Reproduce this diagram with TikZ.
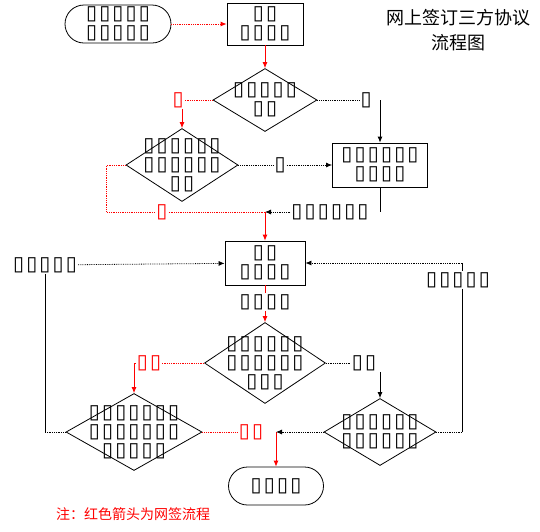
\documentclass[tikz,border=0pt]{standalone}
\usepackage{fontspec}
\newfontfamily\boxfont[LetterSpace=11]{DejaVu Sans}
\newfontfamily\cjkfont{Noto Sans CJK SC}
\usetikzlibrary{shapes.geometric,arrows.meta}

\begin{document}
\begin{tikzpicture}[
  x=1pt, y=-1pt,
  font={\boxfont\fontsize{20pt}{19pt}\selectfont},
  term/.style={draw, line width=0.8pt, rounded corners=19pt, minimum height=38pt, align=center, inner sep=0pt},
  proc/.style={draw, line width=0.8pt, rectangle, align=center, inner sep=0pt},
  ask/.style={draw, line width=0.8pt, diamond, inner sep=0pt},
  tag/.style={inner sep=1pt},
  link/.style={line width=0.8pt},
  hop/.style={line width=0.8pt, densely dotted},
  arr/.style={-{Latex[length=6pt,width=5pt]}},
  net/.style={red}
]
\useasboundingbox (0,0) rectangle (540,531);

% boxes
\node[term, minimum width=106pt] (start) at (118,24) {▯▯▯▯▯\\▯▯▯▯▯};
\node[proc, minimum width=76pt, minimum height=42pt] (boxa) at (265,24) {▯▯\\▯▯▯▯};
\node[ask, minimum width=104pt, minimum height=63pt,
  label={[align=center]center:{▯▯▯▯▯\\▯▯}}] (ask1) at (265,100) {};
\node[ask, minimum width=112pt, minimum height=73pt,
  label={[align=center]center:{▯▯▯▯▯▯\\▯▯▯▯▯▯\\▯▯}}] (ask2) at (182,165) {};
\node[proc, minimum width=95pt, minimum height=44pt] (boxb) at (380,165) {▯▯▯▯▯▯\\▯▯▯▯};
\node[proc, minimum width=80pt, minimum height=44pt] (boxc) at (265,263) {▯▯\\▯▯▯▯};
\node[ask, minimum width=121pt, minimum height=81pt,
  label={[align=center]center:{▯▯▯▯▯▯\\▯▯▯▯▯▯\\▯▯▯}}] (ask3) at (265,363) {};
\node[ask, minimum width=136pt, minimum height=77pt,
  label={[align=center]center:{▯▯▯▯▯▯▯\\▯▯▯▯▯▯▯\\▯▯▯▯▯}}] (ask4) at (134,432) {};
\node[ask, minimum width=112pt, minimum height=67pt,
  label={[align=center]center:{▯▯▯▯▯▯\\▯▯▯▯▯▯}}] (ask5) at (380,432) {};
\node[term, minimum width=95pt] (finish) at (276,486) {▯▯▯▯};

% tags on the lines
\node[tag, net] (ta) at (178,100) {▯};
\node[tag] (tb) at (366,100) {▯};
\node[tag] (tc) at (280,165) {▯};
\node[tag, net] (td) at (162,212) {▯};
\node[tag] (te) at (330,212) {▯▯▯▯▯▯};
\node[tag] (tf) at (265,302) {▯▯▯▯};
\node[tag] (tg) at (45,265) {▯▯▯▯▯};
\node[tag] (th) at (458,280) {▯▯▯▯▯};
\node[tag, net] (ti) at (149,363) {▯▯};
\node[tag] (tj) at (364,363) {▯▯};
\node[tag, net] (tk) at (251,432) {▯▯};

% title and note
\node[font={\cjkfont\fontsize{18pt}{25pt}\selectfont}, align=center] (title) at (458,30) {网上签订三方协议\\流程图};
\node[font={\cjkfont\fontsize{14pt}{16pt}\selectfont}, text=red] (note) at (133,514) {注：红色箭头为网签流程};

% connectors
\draw[hop, net, arr] (start) -- (boxa);
\draw[link, net, arr] (boxa) -- (ask1);
\draw[hop, net] (ask1) -- (ta);
\draw[link, net, arr] (ta.south -| ask2.north) -- (ask2.north);
\draw[hop] (ask1) -- (tb);
\draw[link, arr] (tb -| boxb.north) -- (boxb);
\draw[hop] (ask2) -- (tc);
\draw[hop, arr] (tc) -- (boxb);
\draw[hop, net] (ask2.west) -- ++(-19,0) |- (td);
\coordinate (j1) at (boxc.north |- td);
\draw[hop, net] (td) -- (j1);
\draw[link] (boxb) -- (boxb.south |- te);
\draw[hop, arr] (te) -- (j1);
\draw[link, net, arr] (j1) -- (boxc);
\draw[link, net] (boxc) -- (tf);
\draw[link, net, arr] (tf) -- (ask3);
\draw[hop, arr] (tg) -- (boxc);
\coordinate (c1) at (tg.south |- ask4.west);
\draw[link] (tg) -- (c1);
\draw[hop] (c1) -- (ask4);
\coordinate (c2) at (462,0 |- boxc.east);
\coordinate (c3) at (c2 |- ask5.east);
\draw[hop, arr] (c2) -- (boxc);
\draw[link] (c2) -- (c2 |- th.north);
\draw[link] (c2 |- th.south) -- (c3);
\draw[hop] (c3) -- (ask5);
\draw[hop, net] (ask3) -- (ti);
\draw[link, net, arr] (ti.west) -| (ask4.north);
\draw[hop] (ask3) -- (tj);
\draw[link, arr] (tj.south -| ask5.north) -- (ask5);
\draw[hop, net] (ask4) -- (tk);
\coordinate (j2) at (finish.north |- tk);
\draw[link, net, arr] (j2) -- (finish);
\draw[hop, arr] (ask5) -- (j2);
\end{tikzpicture}
\end{document}
